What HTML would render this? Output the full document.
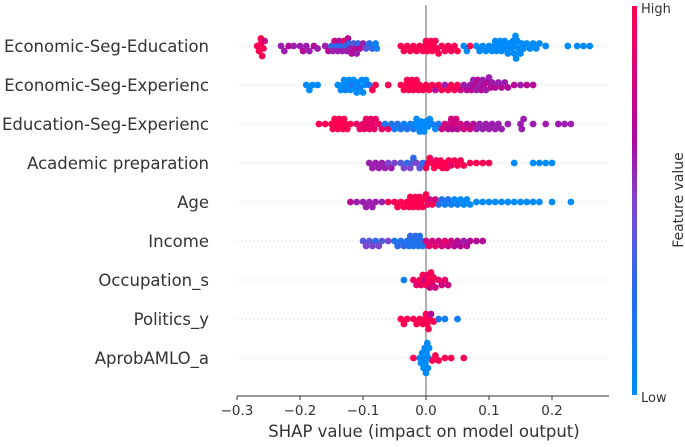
<!DOCTYPE html>
<html><head><meta charset="utf-8"><style>
body{margin:0;background:#fff;font-family:"Liberation Sans","DejaVu Sans",sans-serif}
svg text{font-family:"DejaVu Sans","Liberation Sans",sans-serif}
</style></head><body>
<svg id="chart" width="685" height="442" viewBox="0 0 685 442" xmlns="http://www.w3.org/2000/svg">
<defs><linearGradient id="cb" x1="0" y1="1" x2="0" y2="0">
<stop offset="0" stop-color="#008bfb"/><stop offset="0.3" stop-color="#2f68e8"/><stop offset="0.5" stop-color="#7d46cd"/><stop offset="0.65" stop-color="#aa0aa0"/><stop offset="1" stop-color="#ff0052"/></linearGradient></defs>
<g id="grid"></g><g id="zero"></g><g id="dots"></g><g id="axis"></g>
<rect x="632" y="6" width="5" height="389" fill="url(#cb)"/>
<text x="641" y="13" font-size="13" fill="#333">High</text>
<text x="641" y="402" font-size="13" fill="#333">Low</text>
<text transform="translate(683,200) rotate(-90)" text-anchor="middle" font-size="14" fill="#333">Feature value</text>
<text x="424" y="437" text-anchor="middle" font-size="16.5" fill="#333">SHAP value (impact on model output)</text>
</svg>
<script>
const features=["Economic-Seg-Education","Economic-Seg-Experienc","Education-Seg-Experienc","Academic preparation","Age","Income","Occupation_s","Politics_y","AprobAMLO_a"];
const xTicks=[-0.3,-0.2,-0.1,0.0,0.1,0.2];
const xTickLabels=["\u22120.3","\u22120.2","\u22120.1","0.0","0.1","0.2"];
const econEdu=[[-0.268,1],[-0.265,1],[-0.262,1],[-0.26,1],[-0.258,1],[-0.262,1],[-0.256,0.8],[-0.23,0.6],[-0.225,0.6],[-0.218,0.7],[-0.21,0.6],[-0.2,0.6],[-0.195,0.7],[-0.19,0.6],[-0.185,0.6],[-0.178,0.7],[-0.172,0.6],[-0.16,0.6],[-0.155,0.7],[-0.15,0.3],[-0.148,0.6],[-0.145,0.8],[-0.142,0.3],[-0.14,0.6],[-0.138,0.7],[-0.135,0.3],[-0.133,0.6],[-0.13,0.9],[-0.128,0.3],[-0.126,0.6],[-0.124,0.7],[-0.122,0.3],[-0.12,0.6],[-0.118,0.7],[-0.115,0.4],[-0.112,0.7],[-0.11,0.6],[-0.108,0.3],[-0.105,0.7],[-0.1,0.6],[-0.095,0.4],[-0.09,0.2],[-0.085,0.3],[-0.08,0.1],[-0.078,0.1],[-0.04,1],[-0.035,1],[-0.03,1],[-0.025,1],[-0.02,1],[-0.015,1],[-0.01,1],[-0.005,1],[-0.002,1],[0,1],[0.002,1],[0.005,1],[0.008,1],[0.01,1],[0.012,1],[0.015,1],[0.018,1],[0.02,1],[0.025,1],[0.03,1],[0.035,1],[0.04,1],[0.045,1],[0.05,1],[0.06,0],[0.065,0],[0.07,1],[0.08,0],[0.085,0],[0.09,0],[0.095,0],[0.1,0],[0.105,0],[0.108,0],[0.11,0],[0.112,0],[0.115,0],[0.118,0],[0.12,0],[0.122,0],[0.125,0],[0.128,0],[0.13,0],[0.132,0],[0.135,0],[0.138,0],[0.14,0],[0.141,0],[0.142,0],[0.143,0],[0.145,0],[0.147,0],[0.15,0],[0.152,0],[0.155,0],[0.16,0],[0.165,0],[0.17,0],[0.175,0],[0.18,0],[0.19,0],[0.225,0],[0.24,0],[0.25,0],[0.26,0]];
const econExp=[[-0.19,0],[-0.185,0],[-0.18,0],[-0.172,0],[-0.14,0],[-0.135,0],[-0.132,0],[-0.13,0],[-0.128,0.1],[-0.125,0],[-0.122,0],[-0.12,0],[-0.118,0.2],[-0.115,0],[-0.112,0],[-0.11,0],[-0.108,0],[-0.105,0.1],[-0.102,0],[-0.1,0],[-0.097,0],[-0.095,0],[-0.09,0.2],[-0.085,1],[-0.08,1],[-0.06,1],[-0.04,1],[-0.035,1],[-0.032,1],[-0.03,1],[-0.027,1],[-0.025,1],[-0.022,1],[-0.02,1],[-0.017,1],[-0.015,1],[-0.012,1],[-0.01,1],[-0.005,1],[0,1],[0.005,1],[0.01,1],[0.015,0.7],[0.02,1],[0.025,1],[0.03,0.6],[0.035,1],[0.04,1],[0.045,1],[0.05,1],[0.055,0.8],[0.06,0.6],[0.065,0.7],[0.07,0.6],[0.072,0.7],[0.075,0.6],[0.078,0.7],[0.08,0.6],[0.082,0.7],[0.085,0.6],[0.088,0.7],[0.09,0.6],[0.092,0.7],[0.095,0.6],[0.098,0.7],[0.1,0.6],[0.103,0.7],[0.105,0.6],[0.11,0.7],[0.115,0.6],[0.12,0.7],[0.125,0.6],[0.13,0.7],[0.14,0.7],[0.15,0.6],[0.16,0.7],[0.17,0.7]];
const eduExp=[[-0.17,1],[-0.16,1],[-0.15,1],[-0.148,1],[-0.145,1],[-0.142,1],[-0.14,1],[-0.138,1],[-0.135,1],[-0.132,1],[-0.13,1],[-0.128,1],[-0.125,1],[-0.12,1],[-0.11,0.9],[-0.105,0.9],[-0.1,0.9],[-0.098,0.9],[-0.095,0.9],[-0.092,0.9],[-0.09,0.9],[-0.088,0.9],[-0.085,0.9],[-0.082,0.9],[-0.08,0.9],[-0.075,0.9],[-0.07,0.9],[-0.065,0.2],[-0.06,0.9],[-0.055,0.2],[-0.05,0.1],[-0.045,0.2],[-0.04,0.2],[-0.035,0.1],[-0.03,0.2],[-0.025,0.1],[-0.02,0.2],[-0.018,0],[-0.015,0],[-0.012,0],[-0.01,0],[-0.008,0],[-0.005,0],[-0.003,0],[0,0],[0.003,0],[0.006,0],[0.01,0.1],[0.015,0],[0.02,0.2],[0.025,0.8],[0.03,0.8],[0.035,0.7],[0.038,0.8],[0.04,0.8],[0.042,0.7],[0.045,0.8],[0.048,0.8],[0.05,0.7],[0.055,0.8],[0.06,0.8],[0.065,0.7],[0.07,0.8],[0.075,0.7],[0.08,0.6],[0.085,0.6],[0.09,0.6],[0.095,0.6],[0.1,0.6],[0.105,0.6],[0.11,0.6],[0.115,0.6],[0.12,0.6],[0.13,0.6],[0.15,0.6],[0.152,0.6],[0.155,0.6],[0.17,0.6],[0.19,0.6],[0.21,0.6],[0.22,0.6],[0.23,0.6]];
const academic=[[-0.09,0.6],[-0.085,0.6],[-0.08,0.6],[-0.075,0.6],[-0.07,0.6],[-0.065,0.6],[-0.06,0.5],[-0.055,0.6],[-0.05,0.5],[-0.04,0.4],[-0.035,0.5],[-0.03,0.3],[-0.025,0.5],[-0.022,0.4],[-0.02,0.3],[-0.015,0.5],[-0.01,0.4],[-0.005,0.3],[0,1],[0.003,1],[0.006,1],[0.01,1],[0.013,1],[0.016,0.9],[0.02,1],[0.023,1],[0.026,1],[0.03,1],[0.033,1],[0.036,1],[0.04,0.9],[0.045,1],[0.05,1],[0.055,1],[0.06,1],[0.07,1],[0.08,1],[0.09,1],[0.1,1],[0.14,0],[0.17,0],[0.18,0],[0.19,0],[0.2,0]];
const age=[[-0.12,0.7],[-0.11,0.6],[-0.1,0.6],[-0.095,0.6],[-0.09,0.6],[-0.085,0.6],[-0.08,0.6],[-0.07,0.6],[-0.06,1],[-0.05,1],[-0.045,1],[-0.04,1],[-0.035,1],[-0.03,1],[-0.027,1],[-0.025,1],[-0.022,1],[-0.02,1],[-0.017,1],[-0.015,1],[-0.012,1],[-0.01,1],[-0.008,1],[-0.005,1],[-0.002,1],[0,1],[0.003,0.9],[0.006,0.8],[0.01,1],[0.015,0.8],[0.02,0.3],[0.025,0.2],[0.03,0.1],[0.035,0.2],[0.04,0.1],[0.045,0],[0.05,0.1],[0.055,0],[0.06,0],[0.065,0],[0.07,0],[0.08,0],[0.09,0],[0.1,0],[0.11,0],[0.12,0],[0.13,0],[0.14,0],[0.15,0],[0.16,0],[0.17,0],[0.18,0],[0.2,0],[0.23,0]];
const income=[[-0.1,0.4],[-0.095,0.5],[-0.09,0.4],[-0.085,0.5],[-0.08,0.3],[-0.075,0.5],[-0.07,0.4],[-0.06,0.5],[-0.05,0.2],[-0.045,0.3],[-0.04,0.2],[-0.035,0.3],[-0.03,0.2],[-0.027,0.2],[-0.025,0.3],[-0.022,0.2],[-0.02,0.2],[-0.017,0.3],[-0.015,0.2],[-0.012,0.2],[-0.01,0.2],[-0.007,0.3],[-0.005,0.2],[0,0.8],[0.005,0.9],[0.01,0.8],[0.015,0.9],[0.02,0.8],[0.025,0.8],[0.03,0.9],[0.035,0.8],[0.04,0.8],[0.045,0.7],[0.05,0.7],[0.055,0.7],[0.06,0.6],[0.065,0.7],[0.07,0.7],[0.08,0.7],[0.09,0.7]];
const occupation=[[-0.035,0.1],[-0.02,0.9],[-0.015,0.9],[-0.01,1],[-0.008,0.9],[-0.005,1],[-0.003,0.8],[0,1],[0.002,0.9],[0.004,1],[0.006,0.8],[0.008,1],[0.01,0.9],[0.012,1],[0.015,0.8],[0.02,0.9],[0.025,0.8],[0.03,0.9],[0.035,0.8]];
const politics=[[-0.04,1],[-0.035,1],[-0.03,1],[-0.02,1],[-0.015,1],[-0.01,1],[-0.005,1],[-0.002,1],[0,1],[0.002,1],[0.004,1],[0.006,1],[0.008,0.7],[0.012,1],[0.02,0.2],[0.03,0.1],[0.05,0.1]];
const aprob=[[-0.02,1],[-0.01,0],[-0.008,0],[-0.006,0],[-0.004,0],[-0.002,0],[0,0],[0.001,0],[0.002,0],[0.003,0],[0.004,0],[0.005,0],[-0.003,0],[-0.001,0],[0.01,1],[0.015,1],[0.02,1],[0.03,1],[0.04,1],[0.06,1]];
const rows=[econEdu,econExp,eduExp,academic,age,income,occupation,politics,aprob];

const NS="http://www.w3.org/2000/svg";
const X0=426,PX=630;
const xs=v=>X0+v*PX;
const rowY=i=>46+i*39;
function mk(tag,attrs,parent){const e=document.createElementNS(NS,tag);for(const k in attrs)e.setAttribute(k,attrs[k]);parent.appendChild(e);return e;}
function col(t){const st=[[0,[0,139,251]],[0.3,[47,104,232]],[0.5,[125,70,205]],[0.65,[170,10,160]],[1,[255,0,82]]];
for(let i=1;i<st.length;i++){if(t<=st[i][0]){const a=st[i-1],b=st[i],f=(t-a[0])/(b[0]-a[0]);return "rgb("+a[1].map((c,j)=>Math.round(c+(b[1][j]-c)*f)).join(",")+")";}}return "rgb(255,0,82)";}
const grid=document.getElementById('grid'),dots=document.getElementById('dots'),axis=document.getElementById('axis'),svg=document.getElementById('chart');
features.forEach((f,i)=>{
 const y=rowY(i);
 const l=mk('line',{x1:237,x2:609,y1:y,y2:y,stroke:'#ccc','stroke-width':1,'stroke-dasharray':'1,3'},grid);
 
 
 const t=mk('text',{x:209,y:y+6,'text-anchor':'end','font-size':16.5,fill:'#333'},svg);
 t.textContent=f;
 
 
 const pts=rows[i].map(p=>({x:xs(p[0]),c:p[1]})).sort((a,b)=>a.x-b.x);
 const placed=[];const r=3.4,d=4.4;
 pts.forEach(p=>{let off=0;for(let k=0;k<14;k++){const o=(k%2?1:-1)*Math.ceil(k/2)*2.5;
   if(placed.every(q=>Math.hypot(q.x-p.x,q.y-o)>=d)){off=o;break;}off=o;}
  p.y=off;placed.push(p);
  const c=mk('circle',{cx:p.x.toFixed(1),cy:(y+Math.max(-16,Math.min(16,off))).toFixed(1),r:r,fill:col(p.c)},dots);
  
  
 });
});
const z=mk('line',{x1:xs(0),x2:xs(0),y1:5,y2:396,stroke:'#999','stroke-width':1.5},document.getElementById('zero'));


const ax=mk('line',{x1:237,x2:609,y1:396,y2:396,stroke:'#333','stroke-width':1},axis);


xTicks.forEach((v,i)=>{
 const tk=mk('line',{x1:xs(v),x2:xs(v),y1:396,y2:400,stroke:'#333'},axis);
 
 
 const tl=mk('text',{x:xs(v),y:415,'text-anchor':'middle','font-size':13.5,fill:'#333'},axis);
 tl.textContent=xTickLabels[i];
 
 
});
</script>
</body></html>
